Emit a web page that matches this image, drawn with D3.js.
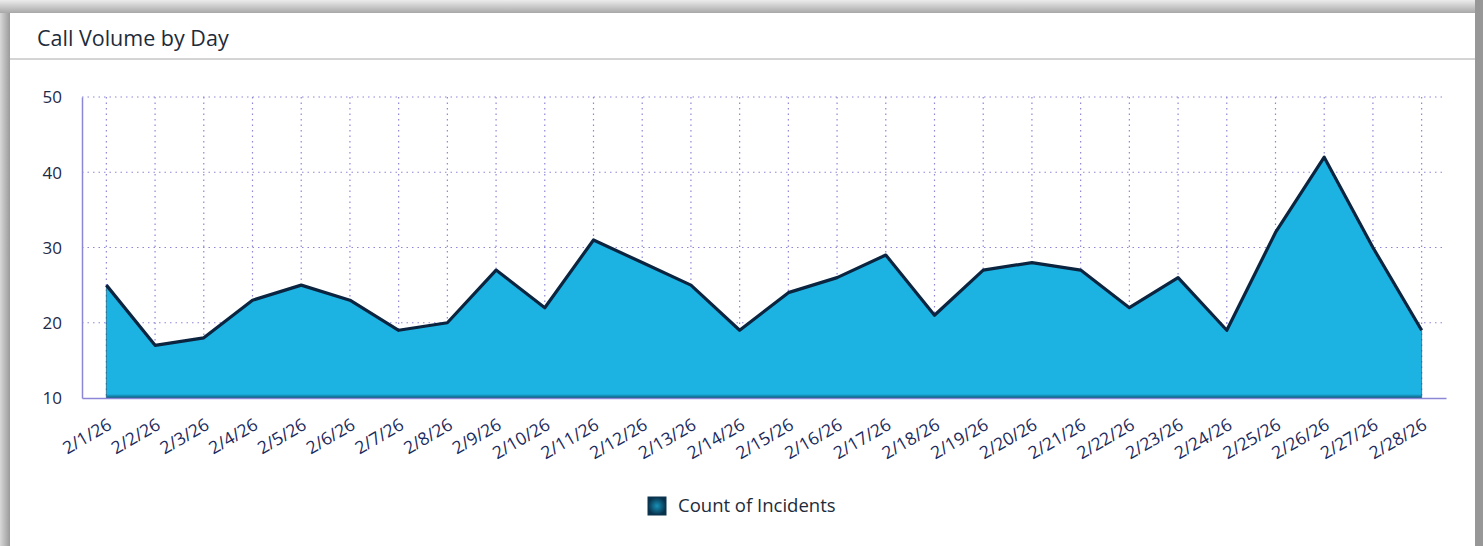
<!DOCTYPE html>
<html>
<head>
<meta charset="utf-8">
<script src="https://cdn.jsdelivr.net/npm/d3@7"></script>
<style>
  body { margin: 0; background: #fff; font-family: "Open Sans", sans-serif; }
  svg { display: block; }
</style>
</head>
<body>
<script>
// data
let days = ["2/1/26","2/2/26","2/3/26","2/4/26","2/5/26","2/6/26","2/7/26","2/8/26","2/9/26","2/10/26",
  "2/11/26","2/12/26","2/13/26","2/14/26","2/15/26","2/16/26","2/17/26","2/18/26","2/19/26","2/20/26",
  "2/21/26","2/22/26","2/23/26","2/24/26","2/25/26","2/26/26","2/27/26","2/28/26"];
let counts = [25,17,18,23,25,23,19,20,27,22,31,28,25,19,24,26,29,21,27,28,27,22,26,19,32,42,30,19];
let yTicks = [10,20,30,40,50];
let seriesName = "Count of Incidents";
let title = "Call Volume by Day";

let W = 1483, H = 546;
let margin = {top: 97, right: 37, bottom: 148, left: 82};
let width = W - margin.left - margin.right;
let height = H - margin.top - margin.bottom;

let root = d3.select("body").append("svg").attr("width", W).attr("height", H);
let defs = root.append("defs");

// frame / shadow
let topG = defs.append("linearGradient").attr("id", "topShade").attr("x1", 0).attr("y1", 0).attr("x2", 0).attr("y2", 1);
topG.append("stop").attr("offset", "0%").attr("stop-color", "#ececec");
topG.append("stop").attr("offset", "100%").attr("stop-color", "#a8a8a8");
let leftG = defs.append("linearGradient").attr("id", "leftShade").attr("x1", 0).attr("y1", 0).attr("x2", 1).attr("y2", 0);
leftG.append("stop").attr("offset", "0%").attr("stop-color", "#d8d8d8");
leftG.append("stop").attr("offset", "100%").attr("stop-color", "#9a9a9a");

root.append("rect").attr("x", 0).attr("y", 0).attr("width", W).attr("height", 13).attr("fill", "url(#topShade)");
root.append("rect").attr("x", 0).attr("y", 13).attr("width", 10).attr("height", H - 13).attr("fill", "url(#leftShade)");
root.append("rect").attr("x", 1475).attr("y", 0).attr("width", 8).attr("height", H).attr("fill", "#979797");
root.append("rect").attr("x", 10).attr("y", 13).attr("width", 1465).attr("height", H - 13).attr("fill", "#fff");

root.append("text").attr("x", 37).attr("y", 46)
  .style("font-size", "21.5px").style("fill", "#1d2b3a").text(title);
root.append("line").attr("x1", 10).attr("x2", 1475).attr("y1", 59).attr("y2", 59)
  .attr("stroke", "#d4d4d4").attr("stroke-width", 2);

let svg = root.append("g").attr("transform", "translate(" + margin.left + "," + margin.top + ")");

let xScale = d3.scalePoint().domain(days).range([0, width]).padding(0.5);
let yScale = d3.scaleLinear().domain([10, 50]).range([height, 0]);

// grid
svg.append("g").selectAll("line.hg")
  .data(yTicks.filter(d => d > 10)).enter().append("line")
  .attr("x1", 0).attr("x2", width)
  .attr("y1", d => yScale(d)).attr("y2", d => yScale(d))
  .attr("stroke", "#8f86d8").attr("stroke-width", 1.2).attr("stroke-dasharray", "1.5,4");
svg.append("g").selectAll("line.vg")
  .data(days).enter().append("line")
  .attr("x1", d => xScale(d)).attr("x2", d => xScale(d))
  .attr("y1", 0).attr("y2", height)
  .attr("stroke", "#8f86d8").attr("stroke-width", 1.2).attr("stroke-dasharray", "1.5,4");

// area
let bottomG = defs.append("linearGradient").attr("id", "areaFill").attr("gradientUnits", "userSpaceOnUse")
  .attr("x1", 0).attr("y1", height - 4).attr("x2", 0).attr("y2", height);
bottomG.append("stop").attr("offset", "0%").attr("stop-color", "#1cb3e3");
bottomG.append("stop").attr("offset", "100%").attr("stop-color", "#0a5a78");

let area = d3.area()
  .x((d, i) => xScale(days[i]))
  .y0(yScale(10))
  .y1(d => yScale(d));
let line = d3.line()
  .x((d, i) => xScale(days[i]))
  .y(d => yScale(d));

svg.append("path").datum(counts).attr("d", area).attr("fill", "url(#areaFill)")
  .attr("stroke", "#0b4d68").attr("stroke-width", 1).attr("stroke-opacity", 0.6);
svg.append("path").datum(counts).attr("d", line).attr("fill", "none")
  .attr("stroke", "#0b2540").attr("stroke-width", 3.2).attr("stroke-linejoin", "round");

// axes
let yAxis = d3.axisLeft(yScale).tickValues(yTicks).tickSize(0).tickPadding(20);
let xAxis = d3.axisBottom(xScale).tickSize(0).tickPadding(0);

let gy = svg.append("g").attr("class", "y axis").call(yAxis);
gy.select(".domain").attr("stroke", "#8c86d6").attr("stroke-width", 1.5);
gy.selectAll("text").style("font-size", "17px").style("fill", "#1c2a47")
  .style("font-family", "Open Sans, sans-serif").attr("dy", "0.35em");

let gx = svg.append("g").attr("class", "x axis")
  .attr("transform", "translate(0," + height + ")").call(xAxis);
gx.select(".domain").attr("stroke", "#8c86d6").attr("stroke-width", 1.5);
gx.selectAll("text")
  .style("font-size", "17.5px").style("fill", "#1b2a5c").style("font-family", "Open Sans, sans-serif")
  .style("text-anchor", "end")
  .attr("x", 0).attr("y", 0).attr("dy", "0.35em")
  .attr("transform", "translate(3,25) rotate(-30)");

// legend
let legG = defs.append("radialGradient").attr("id", "legFill");
legG.append("stop").attr("offset", "0%").attr("stop-color", "#1891b8");
legG.append("stop").attr("offset", "100%").attr("stop-color", "#08324c");
let leg = root.append("g").attr("transform", "translate(648,497)");
leg.append("rect").attr("width", 18).attr("height", 18).attr("fill", "url(#legFill)")
  .attr("stroke", "#0d3550").attr("stroke-width", 1);
leg.append("text").attr("x", 30).attr("y", 15).style("font-size", "18.5px").style("fill", "#1d2b3a")
  .text(seriesName);
</script>
</body>
</html>
